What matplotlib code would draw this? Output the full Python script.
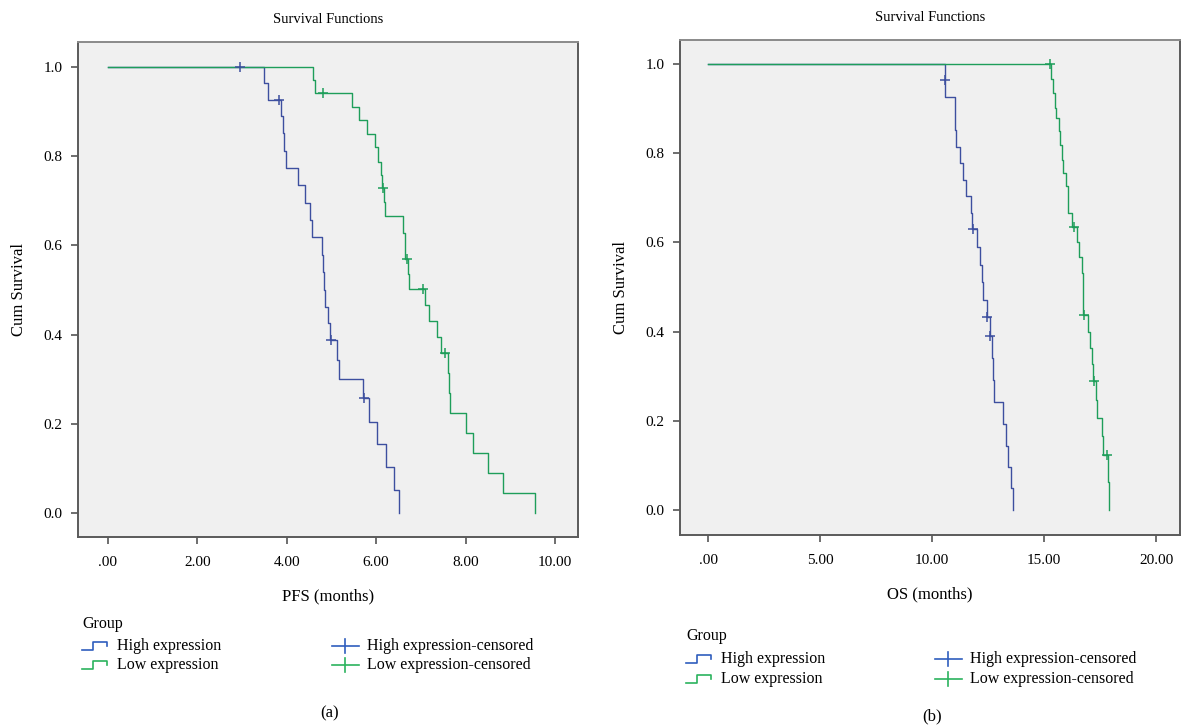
import matplotlib
matplotlib.use("Agg")
import matplotlib.pyplot as plt

plt.rcParams['font.family'] = ['Liberation Serif', 'DejaVu Serif']

# PFS panel (a) - step points
pfs_high_t = [0, 3.49, 3.59, 3.88, 3.91, 3.94, 3.98, 4.26, 4.41, 4.52, 4.57, 4.78, 4.80,
              4.83, 4.86, 4.92, 4.97, 5.12, 5.17, 5.71, 5.85, 6.01, 6.23, 6.40, 6.51]
pfs_high_s = [1.0, 0.963, 0.926, 0.889, 0.851, 0.812, 0.773, 0.735, 0.695, 0.657, 0.618, 0.578, 0.540,
              0.500, 0.462, 0.425, 0.388, 0.343, 0.300, 0.257, 0.205, 0.155, 0.102, 0.052, 0.0]
pfs_high_cens_t = [2.95, 3.83, 5.00, 5.73]
pfs_high_cens_s = [1.0, 0.926, 0.388, 0.257]

pfs_low_t = [0, 4.59, 4.62, 5.47, 5.62, 5.79, 5.97, 6.05, 6.10, 6.13, 6.18, 6.20, 6.60, 6.64,
             6.72, 6.74, 7.09, 7.19, 7.37, 7.45, 7.61, 7.63, 7.65, 8.02, 8.17, 8.51, 8.84, 9.55]
pfs_low_s = [1.0, 0.971, 0.942, 0.911, 0.881, 0.850, 0.821, 0.788, 0.758, 0.728, 0.697, 0.666, 0.628, 0.569,
             0.535, 0.502, 0.466, 0.431, 0.394, 0.358, 0.313, 0.269, 0.225, 0.180, 0.135, 0.090, 0.044, 0.0]
pfs_low_cens_t = [4.82, 6.15, 6.68, 7.04, 7.54]
pfs_low_cens_s = [0.942, 0.728, 0.569, 0.502, 0.358]

# OS panel (b)
os_high_t = [0, 10.58, 10.60, 11.03, 11.04, 11.05, 11.25, 11.40, 11.52, 11.73, 11.77, 12.00, 12.14,
             12.22, 12.29, 12.47, 12.59, 12.69, 12.72, 12.75, 13.16, 13.30, 13.41, 13.53, 13.60]
os_high_s = [1.0, 0.964, 0.927, 0.890, 0.852, 0.815, 0.778, 0.740, 0.704, 0.667, 0.630, 0.590, 0.549,
             0.512, 0.472, 0.433, 0.390, 0.340, 0.292, 0.243, 0.194, 0.144, 0.096, 0.049, 0.0]
os_high_cens_t = [10.58, 11.85, 12.47, 12.59]
os_high_cens_s = [0.964, 0.630, 0.433, 0.390]

os_low_t = [0, 15.30, 15.40, 15.50, 15.55, 15.65, 15.72, 15.79, 15.86, 16.00, 16.05, 16.08, 16.25,
            16.46, 16.55, 16.68, 16.72, 16.74, 16.75, 16.98, 17.05, 17.13, 17.20, 17.32, 17.35,
            17.60, 17.62, 17.84, 17.90]
os_low_s = [1.0, 0.967, 0.935, 0.902, 0.880, 0.850, 0.818, 0.785, 0.756, 0.726, 0.695, 0.665, 0.635,
            0.602, 0.567, 0.532, 0.497, 0.467, 0.437, 0.400, 0.363, 0.327, 0.290, 0.247, 0.206,
            0.165, 0.123, 0.062, 0.0]
os_low_cens_t = [15.25, 16.33, 16.78, 17.22, 17.80]
os_low_cens_s = [1.0, 0.635, 0.437, 0.290, 0.123]

pfs_ticks = [0, 2, 4, 6, 8, 10]
pfs_ticklabels = ['.00', '2.00', '4.00', '6.00', '8.00', '10.00']
os_ticks = [0, 5, 10, 15, 20]
os_ticklabels = ['.00', '5.00', '10.00', '15.00', '20.00']
y_ticks = [0.0, 0.2, 0.4, 0.6, 0.8, 1.0]

blue = '#3d4f9f'
green = '#1e9e5a'
leg_blue = '#2f5dbd'
leg_green = '#2bb35e'

W, H = 1183, 728
fig = plt.figure(figsize=(W / 100, H / 100), dpi=100)


def px_axes(x0, y0, x1, y1):
    return fig.add_axes([x0 / W, 1 - y1 / H, (x1 - x0) / W, (y1 - y0) / H])


def setup(ax, xlim, ylim, xticks, xlabels, xlabel):
    ax.set_facecolor('#f0f0f0')
    ax.set_xlim(*xlim)
    ax.set_ylim(*ylim)
    ax.set_xticks(xticks)
    ax.set_xticklabels(xlabels)
    ax.set_yticks(y_ticks)
    ax.set_yticklabels(['%.1f' % v for v in y_ticks])
    ax.tick_params(direction='out', length=5, width=1.2, color='#555555', labelsize=11)
    ax.tick_params(axis='x', pad=9)
    ax.tick_params(axis='y', pad=6)
    for s in ax.spines.values():
        s.set_color('#5a5a5a')
        s.set_linewidth(1.4)
    ax.spines['top'].set_color('#8a8a8a')
    ax.set_title('Survival Functions', fontsize=10.5, pad=14)
    ax.set_xlabel(xlabel, fontsize=12, labelpad=14)
    ax.set_ylabel('Cum Survival', fontsize=12, labelpad=12)


def draw(ax, ht, hs, hct, hcs, lt, ls, lct, lcs):
    ax.step(ht, hs, where='post', color=blue, lw=1.0)
    ax.step(lt, ls, where='post', color=green, lw=1.0)
    ax.plot(hct, hcs, '+', color=blue, ms=7, mew=1.1)
    ax.plot(lct, lcs, '+', color=green, ms=7, mew=1.1)


ax1 = px_axes(78, 42, 578, 537)
setup(ax1, (-0.671, 10.515), (-0.054, 1.056), pfs_ticks, pfs_ticklabels, 'PFS (months)')
draw(ax1, pfs_high_t, pfs_high_s, pfs_high_cens_t, pfs_high_cens_s,
     pfs_low_t, pfs_low_s, pfs_low_cens_t, pfs_low_cens_s)

ax2 = px_axes(680, 40, 1180, 535)
setup(ax2, (-1.25, 21.07), (-0.056, 1.054), os_ticks, os_ticklabels, 'OS (months)')
draw(ax2, os_high_t, os_high_s, os_high_cens_t, os_high_cens_s,
     os_low_t, os_low_s, os_low_cens_t, os_low_cens_s)

# overlay in pixel units for the legends and panel letters
ov = fig.add_axes([0, 0, 1, 1])
ov.set_xlim(0, W)
ov.set_ylim(H, 0)
ov.axis('off')
ov.patch.set_visible(False)


def legend(x0, y_group, y_high, y_low, x_col2):
    ov.text(x0, y_group, 'Group', fontsize=11.5, va='center', ha='left')
    for y, c, lab in [(y_high, leg_blue, 'High expression'), (y_low, leg_green, 'Low expression')]:
        yb = y + 4
        ov.plot([x0, x0 + 11, x0 + 11, x0 + 25, x0 + 25],
                [yb, yb, yb - 8, yb - 8, yb - 4], color=c, lw=1.2)
        ov.text(x0 + 35, y, lab, fontsize=11.5, va='center', ha='left')
        ov.plot([x_col2, x_col2 + 27], [y, y], color=c, lw=1.2)
        ov.plot([x_col2 + 13.5, x_col2 + 13.5], [y - 7, y + 7], color=c, lw=1.2)
        ov.text(x_col2 + 35, y, lab + '-censored', fontsize=11.5, va='center', ha='left')


legend(82, 624, 646, 665, 332)
legend(686, 636, 659, 679, 935)

ov.text(330, 713, '(a)', fontsize=12, ha='center', va='center')
ov.text(932, 716, '(b)', fontsize=12, ha='center', va='center')

fig.savefig('out.png', dpi=100)
